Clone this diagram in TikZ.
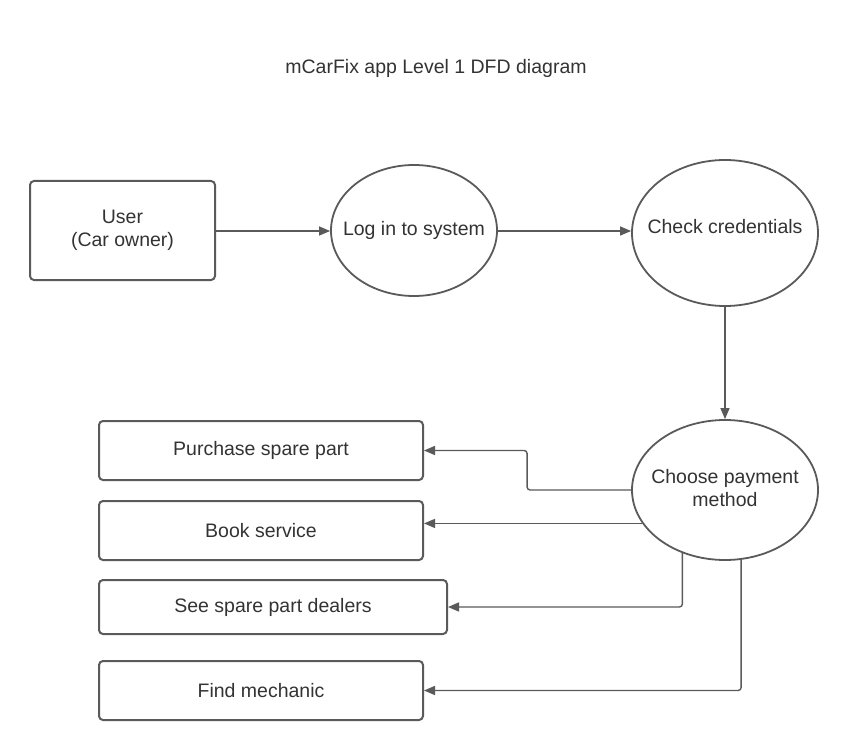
\documentclass[tikz,border=0pt]{standalone}
\usepackage{fontspec}
\setmainfont{Liberation Sans}
\usetikzlibrary{arrows.meta,shapes.geometric}
\definecolor{lc}{HTML}{5A5A5A}
\definecolor{tc}{HTML}{333333}
\newcommand{\zw}[1]{\makebox[0pt][c]{\begin{tabular}{@{}c@{}}#1\end{tabular}}}
\begin{document}
\begin{tikzpicture}[x=1pt,y=-1pt,
  every node/.style={text=tc,font=\fontsize{19.5}{23}\selectfont},
  entity/.style={draw=lc,line width=2pt,rounded corners=4pt,inner sep=0pt,align=center},
  proc/.style={draw=lc,line width=1.8pt,ellipse,inner sep=0pt},
  flow/.style={draw=lc,line width=1.4pt,rounded corners=3pt,-{Triangle[length=11pt,width=9pt]}}]
\useasboundingbox (0,0) rectangle (848,751);
\fill[white] (0,0) rectangle (848,751);

\node (title) at (436,68) {mCarFix app Level 1 DFD diagram};

\node[entity,minimum width=185pt,minimum height=99pt] (user) at (122.5,230.5) {User\\(Car owner)};
\node[proc,minimum width=166pt,minimum height=131pt] (login) at (414,230.5) {\zw{Log in to system}};
\node[proc,minimum width=186pt,minimum height=146pt] (check) at (725,233) {\raisebox{14pt}{\zw{Check credentials}}};
\node[proc,minimum width=186pt,minimum height=140pt] (choose) at (725,490) {\raisebox{5pt}{\zw{Choose payment\\method}}};

\node[entity,minimum width=324pt,minimum height=59pt] (purchase) at (261,450.5) {Purchase spare part};
\node[entity,minimum width=324pt,minimum height=59pt] (book) at (261,530.5) {Book service};
\node[entity,minimum width=348pt,minimum height=54pt] (dealers) at (273,607) {See spare part dealers};
\node[entity,minimum width=324pt,minimum height=59pt] (mechanic) at (261,690.5) {Find mechanic};

\draw[flow] (user.east |- 0,231) -- (login.west |- 0,231);
\draw[flow] (login.east |- 0,231) -- (check.west |- 0,231);
\draw[flow] (check.south) -- (choose.north);
\draw[flow] (choose.west) -- ++(-104,0) |- (purchase.east);
\draw[flow] (choose.202.7) -- (choose.202.7 -| book.east);
\draw[flow] (choose.236) |- (dealers.east);
\draw[flow] (choose.283) |- (mechanic.east);
\end{tikzpicture}
\end{document}
